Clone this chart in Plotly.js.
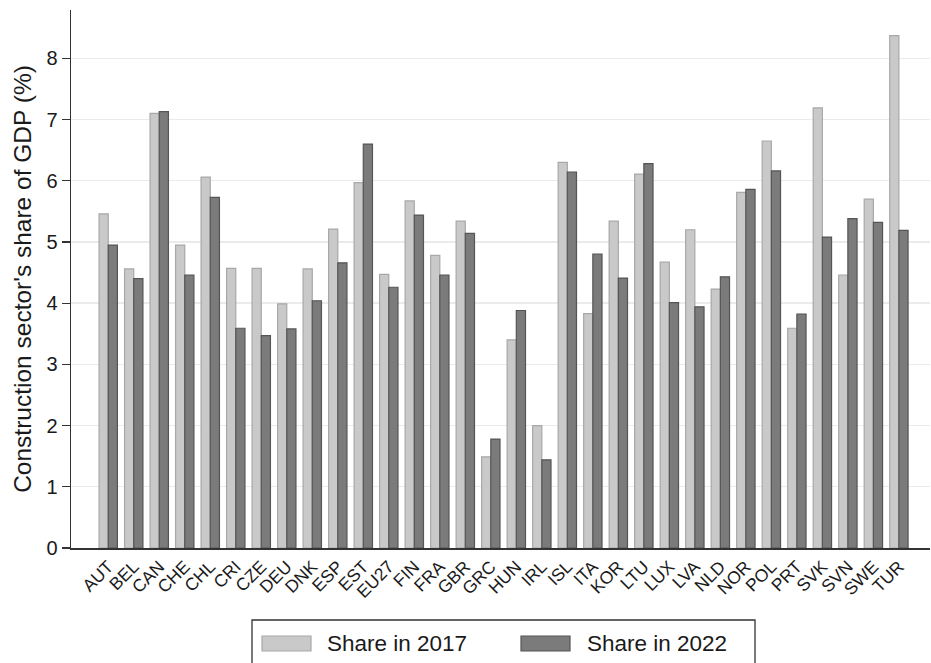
<!DOCTYPE html>
<html>
<head>
<meta charset="utf-8">
<script src="https://cdn.plot.ly/plotly-3.0.1.min.js"></script>
<style>html,body{margin:0;padding:0;background:#fff;}#chart{width:931px;height:663px;}</style>
</head>
<body>
<div id="chart"></div>
<script>
const countries = ["AUT","BEL","CAN","CHE","CHL","CRI","CZE","DEU","DNK","ESP","EST","EU27","FIN","FRA","GBR","GRC","HUN","IRL","ISL","ITA","KOR","LTU","LUX","LVA","NLD","NOR","POL","PRT","SVK","SVN","SWE","TUR"];
const share2017 = [5.46,4.56,7.10,4.95,6.06,4.57,4.57,3.99,4.56,5.21,5.97,4.47,5.67,4.78,5.34,1.49,3.40,2.00,6.30,3.83,5.34,6.11,4.67,5.20,4.23,5.81,6.65,3.59,7.19,4.46,5.70,8.37];
const share2022 = [4.95,4.40,7.13,4.46,5.73,3.59,3.47,3.58,4.04,4.66,6.60,4.26,5.44,4.46,5.14,1.78,3.88,1.44,6.14,4.80,4.41,6.28,4.01,3.94,4.43,5.86,6.16,3.82,5.08,5.38,5.32,5.19];
const yTicks = [0,1,2,3,4,5,6,7,8];
const seriesNames = ["Share in 2017","Share in 2022"];

const font = "Arial, 'Liberation Sans', sans-serif";
const fills = ["#c9c9c9","#7b7b7b"];
const lines = ["#a8a8a8","#555555"];

const traces = [
  {type:"bar", name:seriesNames[0], x:countries, y:share2017,
   marker:{color:fills[0], line:{color:lines[0], width:1.2}}},
  {type:"bar", name:seriesNames[1], x:countries, y:share2022,
   marker:{color:fills[1], line:{color:lines[1], width:1.2}}}
];

// custom legend (paper coordinates): plot area is 71..930 x 10..548 px
const L = 71, W = 859, B = 548, H = 538;
const px = v => (v - L) / W;
const py = v => (B - v) / H;
const shapes = [
  {type:"rect", xref:"paper", yref:"paper", x0:px(252), x1:px(755), y0:py(620), y1:py(700),
   line:{color:"#333", width:1.3}, fillcolor:"rgba(0,0,0,0)"},
  {type:"rect", xref:"paper", yref:"paper", x0:px(262), x1:px(311), y0:py(636), y1:py(651),
   line:{color:lines[0], width:1.2}, fillcolor:fills[0]},
  {type:"rect", xref:"paper", yref:"paper", x0:px(521), x1:px(570), y0:py(636), y1:py(651),
   line:{color:lines[1], width:1.2}, fillcolor:fills[1]}
];
const annotations = [
  {xref:"paper", yref:"paper", x:px(325), y:py(643.5), xanchor:"left", yanchor:"middle",
   text:seriesNames[0], showarrow:false, font:{size:22.5, family:font, color:"#1a1a1a"}},
  {xref:"paper", yref:"paper", x:px(585), y:py(643.5), xanchor:"left", yanchor:"middle",
   text:seriesNames[1], showarrow:false, font:{size:22.5, family:font, color:"#1a1a1a"}}
];

const layout = {
  width:931, height:663,
  margin:{l:71, r:1, t:10, b:115, autoexpand:false},
  paper_bgcolor:"#fff", plot_bgcolor:"#fff",
  font:{family:font, color:"#1a1a1a", size:16},
  barmode:"group", bargap:0.28, bargroupgap:0,
  showlegend:false,
  shapes:shapes, annotations:annotations,
  xaxis:{type:"category", range:[-1.46, 32.22], tickangle:-45, showline:true,
         linecolor:"#333", linewidth:1.5, ticks:"", showgrid:false, automargin:false,
         tickfont:{size:17.5, family:font}, zeroline:false},
  yaxis:{range:[0,8.79], tickvals:yTicks, ticktext:yTicks.map(String), ticks:"outside",
         ticklen:8, tickcolor:"#333", tickwidth:1.3, showline:true, linecolor:"#333", linewidth:1.5,
         gridcolor:"#ebebeb", gridwidth:1.4, zeroline:false, automargin:false,
         tickfont:{size:20, family:font},
         title:{text:"Construction sector's share of GDP (%)", font:{size:24.5, family:font}, standoff:8}}
};
Plotly.newPlot("chart", traces, layout, {staticPlot:true, displayModeBar:false});
</script>
</body>
</html>
